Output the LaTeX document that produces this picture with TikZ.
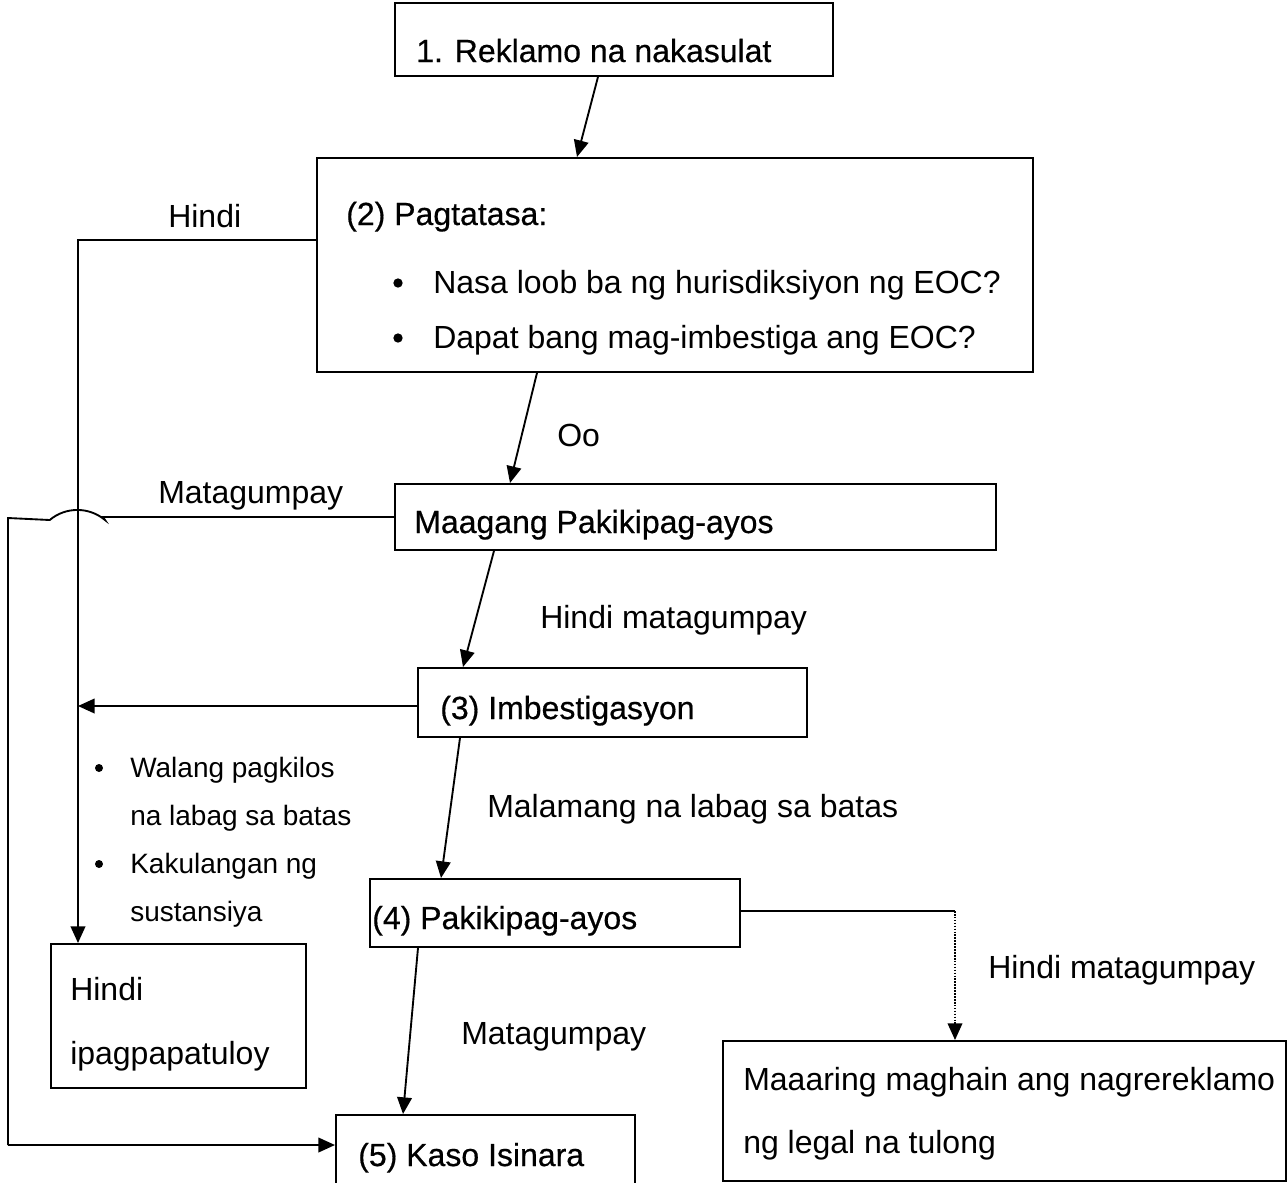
\documentclass[tikz,border=0pt]{standalone}
\usepackage{fontspec}
\setmainfont{Liberation Sans}
\newfontfamily\titlefont[FakeBold=0.5]{Liberation Sans}
\usetikzlibrary{arrows.meta,calc}
\begin{document}
\begin{tikzpicture}[x=0.75pt,y=-0.75pt,
  box/.style={draw,line width=1.4pt,rectangle,inner sep=0pt,anchor=north west},
  conn/.style={line width=1.4pt},
  arr/.style={conn,-{Triangle[length=12.5pt,width=11pt]}},
  ttl/.style={inner sep=0pt,anchor=base west,font=\titlefont\fontsize{24}{28}\selectfont},
  lbl/.style={inner sep=0pt,anchor=base west,font=\fontsize{24}{28}\selectfont},
  sml/.style={inner sep=0pt,anchor=base west,font=\fontsize{21}{25}\selectfont},
  bul/.style={circle,fill,inner sep=0pt,minimum size=7pt}]
\useasboundingbox (0,0) rectangle (1287,1182);
\clip (0,0) rectangle (1287,1182);
% boxes
\node[box,minimum width=438*0.75pt,minimum height=73*0.75pt] (b1) at (394,2) {};
\node[box,minimum width=716*0.75pt,minimum height=214*0.75pt] (b2) at (316,157) {};
\node[box,minimum width=601*0.75pt,minimum height=66*0.75pt] (b3) at (394,483) {};
\node[box,minimum width=389*0.75pt,minimum height=69*0.75pt] (b4) at (417,667) {};
\node[box,minimum width=370*0.75pt,minimum height=68*0.75pt] (b5) at (369,878) {};
\node[box,minimum width=255*0.75pt,minimum height=144*0.75pt] (b6) at (50,943) {};
\node[box,minimum width=563*0.75pt,minimum height=140*0.75pt] (b7) at (722,1040) {};
\node[box,minimum width=299*0.75pt,minimum height=90*0.75pt] (b8) at (335,1114) {};
% texts
\node[ttl] (t1) at (416,62) {1. Reklamo na nakasulat};
\node[ttl] (t2) at (346,225) {(2) Pagtatasa:};
\node[bul] (d1) at (398,283) {};
\node[lbl] (t2a) at (433,293) {Nasa loob ba ng hurisdiksiyon ng EOC?};
\node[bul] (d2) at (398,338) {};
\node[lbl] (t2b) at (433,348) {Dapat bang mag-imbestiga ang EOC?};
\node[ttl] (t3) at (414,533) {Maagang Pakikipag-ayos};
\node[ttl] (t4) at (440,719) {(3) Imbestigasyon};
\node[ttl] (t5) at (372,929) {(4) Pakikipag-ayos};
\node[lbl] (t6a) at (70,1000) {Hindi};
\node[lbl] (t6b) at (70,1064) {ipagpapatuloy};
\node[lbl] (t7a) at (743,1090) {Maaaring maghain ang nagrereklamo};
\node[lbl] (t7b) at (743,1153) {ng legal na tulong};
\node[ttl] (t8) at (358,1166) {(5) Kaso Isinara};
% labels
\node[lbl] (l1) at (168,227) {Hindi};
\node[lbl] (l2) at (557,446) {Oo};
\node[lbl] (l3) at (158,503) {Matagumpay};
\node[lbl] (l4) at (540,628) {Hindi matagumpay};
\node[lbl] (l5) at (487,817) {Malamang na labag sa batas};
\node[lbl] (l6) at (988,978) {Hindi matagumpay};
\node[lbl] (l7) at (461,1044) {Matagumpay};
\node[bul,minimum size=6pt] (d3) at (99,768) {};
\node[sml] (s1) at (130,777) {Walang pagkilos};
\node[sml] (s2) at (130,825) {na labag sa batas};
\node[bul,minimum size=6pt] (d4) at (99,864) {};
\node[sml] (s3) at (130,873) {Kakulangan ng};
\node[sml] (s4) at (130,921) {sustansiya};
% connectors
\coordinate (j1) at (78,706);
\coordinate (h1) at (103,517);
\coordinate (h2) at (8,518);
\coordinate (h3) at (8,1145);
\coordinate (k1) at (955,911);
\draw[arr] ($(b1.south west)+(204,0)$) -- ($(b2.north west)+(261,0)$);
\draw[arr] ($(b2.north west)+(0,83)$) -| ($(b6.north west)+(28,0)$);
\draw[arr] ($(b2.south west)+(221,0)$) -- ($(b3.north west)+(116,0)$);
\draw[conn] ($(b3.north west)+(0,34)$) -- (h1) -- (105,520) arc[start angle=-50,end angle=-130,radius=43] -- (h2) -- (h3);
\draw[arr] (h3) -- ($(b8.north west)+(0,31)$);
\draw[arr] ($(b3.south west)+(100,0)$) -- ($(b4.north west)+(46,0)$);
\draw[arr] ($(b4.north west)+(0,39)$) -- (j1);
\draw[arr] ($(b4.south west)+(43,0)$) -- ($(b5.north west)+(72,0)$);
\draw[line width=1pt] ($(b5.north east)+(0,33)$) -- (k1);
\draw[line width=1.2pt,densely dotted,-{Triangle[length=12.5pt,width=11pt]}] (k1) -- ($(b7.north west)+(233,0)$);
\draw[arr] ($(b5.south west)+(49,0)$) -- ($(b8.north west)+(68,0)$);
\end{tikzpicture}
\end{document}
